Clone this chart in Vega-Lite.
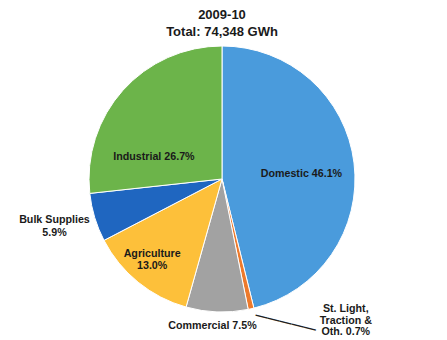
{
  "$schema": "https://vega.github.io/schema/vega-lite/v6.json",
  "autosize": "none",
  "width": 444,
  "height": 278,
  "padding": {"left": 0, "top": 40, "right": 3, "bottom": 22},
  "background": "white",
  "title": {
    "text": ["2009-10", "Total: 74,348 GWh"],
    "font": "Liberation Sans",
    "fontSize": 13,
    "fontWeight": "bold",
    "color": "#1a1a1a",
    "lineHeight": 17.5,
    "anchor": "middle",
    "frame": "group",
    "offset": 1
  },
  "data": {
    "values": [
      {"idx": 1, "cat": "Domestic", "value": 46.1, "label": "Domestic 46.1%"},
      {"idx": 2, "cat": "St. Light, Traction & Oth.", "value": 0.7, "label": "St. Light,\nTraction &\nOth. 0.7%"},
      {"idx": 3, "cat": "Commercial", "value": 7.5, "label": "Commercial  7.5%"},
      {"idx": 4, "cat": "Agriculture", "value": 13.0, "label": "Agriculture\n13.0%"},
      {"idx": 5, "cat": "Bulk Supplies", "value": 5.9, "label": "Bulk Supplies\n5.9%"},
      {"idx": 6, "cat": "Industrial", "value": 26.7, "label": "Industrial 26.7%"}
    ]
  },
  "config": {"view": {"stroke": null}},
  "encoding": {
    "theta": {"field": "value", "type": "quantitative", "stack": true},
    "order": {"field": "idx", "type": "quantitative"}
  },
  "layer": [
    {
      "mark": {"type": "arc", "radius": 133, "stroke": "white", "strokeWidth": 1},
      "encoding": {
        "color": {
          "field": "cat",
          "type": "nominal",
          "legend": null,
          "scale": {
            "domain": ["Domestic", "St. Light, Traction & Oth.", "Commercial", "Agriculture", "Bulk Supplies", "Industrial"],
            "range": ["#4a9bdc", "#ed7a2c", "#a2a2a2", "#fdc03a", "#1f66c0", "#6cb44a"]
          }
        }
      }
    },
    {
      "mark": {"type": "text", "radius": 80, "dx": 0, "dy": 5, "font": "Liberation Sans", "fontSize": 10.7, "fontWeight": "bold", "color": "#1a1a1a", "baseline": "middle", "align": "center"},
      "encoding": {"text": {"condition": {"test": "datum.cat === 'Domestic'", "field": "label"}, "value": ""}}
    },
    {
      "mark": {"type": "text", "radius": 70, "dx": -16, "dy": 25, "font": "Liberation Sans", "fontSize": 10.7, "fontWeight": "bold", "color": "#1a1a1a", "baseline": "middle", "align": "center"},
      "encoding": {"text": {"condition": {"test": "datum.cat === 'Industrial'", "field": "label"}, "value": ""}}
    },
    {
      "mark": {"type": "text", "radius": 106, "dx": -3, "dy": -7, "lineBreak": "\n", "lineHeight": 11.5, "font": "Liberation Sans", "fontSize": 10.7, "fontWeight": "bold", "color": "#1a1a1a", "baseline": "middle", "align": "center"},
      "encoding": {"text": {"condition": {"test": "datum.cat === 'Agriculture'", "field": "label"}, "value": ""}}
    },
    {
      "mark": {"type": "text", "radius": 174, "dx": -1, "dy": -9.5, "lineBreak": "\n", "lineHeight": 13.5, "font": "Liberation Sans", "fontSize": 10.7, "fontWeight": "bold", "color": "#1a1a1a", "baseline": "middle", "align": "center"},
      "encoding": {"text": {"condition": {"test": "datum.cat === 'Bulk Supplies'", "field": "label"}, "value": ""}}
    },
    {
      "mark": {"type": "text", "radius": 147, "dx": -4, "dy": 0, "font": "Liberation Sans", "fontSize": 10.7, "fontWeight": "bold", "color": "#1a1a1a", "baseline": "middle", "align": "center"},
      "encoding": {"text": {"condition": {"test": "datum.cat === 'Commercial'", "field": "label"}, "value": ""}}
    },
    {
      "mark": {"type": "text", "radius": 150, "dx": 91, "dy": -16, "lineBreak": "\n", "lineHeight": 11.5, "font": "Liberation Sans", "fontSize": 10.7, "fontWeight": "bold", "color": "#1a1a1a", "baseline": "middle", "align": "center"},
      "encoding": {"text": {"condition": {"test": "datum.cat === 'St. Light, Traction & Oth.'", "field": "label"}, "value": ""}}
    },
    {
      "mark": {"type": "text", "radius": 153, "dx": 28, "dy": -13.5, "angle": 14, "font": "Liberation Sans", "fontSize": 12.4, "fontWeight": "bold", "color": "#222222", "baseline": "middle", "align": "center"},
      "encoding": {"text": {"condition": {"test": "datum.cat === 'St. Light, Traction & Oth.'", "value": "—————"}, "value": ""}}
    }
  ]
}
